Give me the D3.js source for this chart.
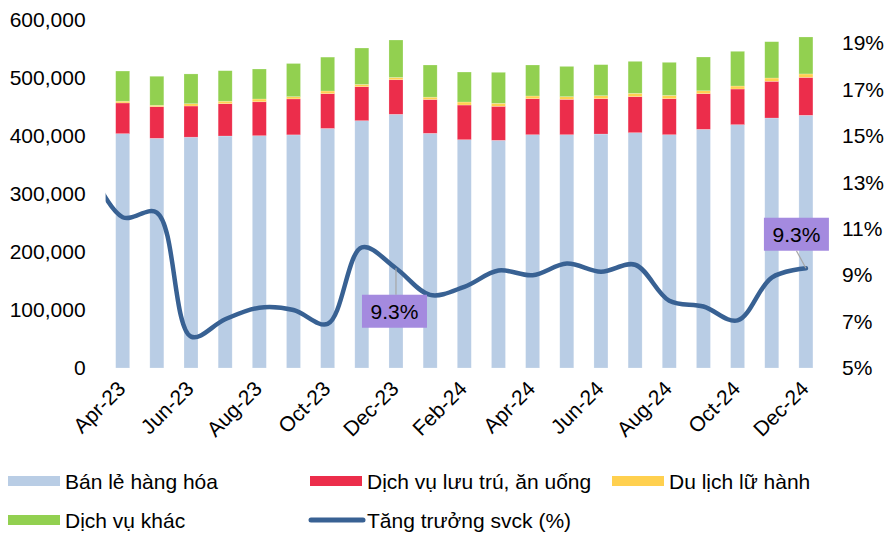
<!DOCTYPE html>
<html>
<head>
<meta charset="utf-8">
<script src="https://cdn.jsdelivr.net/npm/d3@7"></script>
<style>
  body { margin: 0; background: #fff; }
  text { font-family: "Liberation Sans", Arial, sans-serif; fill: #000; }
</style>
</head>
<body>
<div id="chart"></div>
<script>
// months shown on the axis
const months = ['Apr-23', 'May-23', 'Jun-23', 'Jul-23', 'Aug-23', 'Sep-23', 'Oct-23', 'Nov-23', 'Dec-23',
    'Jan-24', 'Feb-24', 'Mar-24', 'Apr-24', 'May-24', 'Jun-24', 'Jul-24', 'Aug-24', 'Sep-24', 'Oct-24', 'Nov-24', 'Dec-24']

// revenue by component
const banLe = [404000, 396000, 398000, 400000, 400500, 402000, 413000, 426400, 437400, 404600, 393600,
    392500, 402200, 402200, 403400, 405700, 402200, 411500, 419500, 431000, 435700]
const luuTru = [53000, 54500, 53700, 55700, 58500, 62000, 60000, 58600, 59600, 58400, 59800,
    58700, 62100, 61000, 60900, 62100, 62100, 61500, 61500, 63300, 65300]
const duLich = [3000, 2500, 4000, 4300, 4800, 3800, 4600, 4000, 4000, 4000, 5200,
    5200, 4700, 4600, 5200, 5800, 5700, 5000, 5200, 5700, 6000]
const khac = [52000, 50000, 51300, 52600, 51700, 57200, 58400, 62700, 64500, 55400, 51700,
    53400, 53400, 52200, 53500, 55100, 57000, 58200, 59800, 62600, 63700]

// yoy growth (%) ; the Mar-23 value only gives the line its entry from the left edge
const growthMar23 = 13.7
const growth = [11.5, 11.7, 6.35, 7.1, 7.6, 7.5, 6.9, 10.2, 9.3, 8.15, 8.5, 9.2, 9.0, 9.5, 9.15, 9.45,
    7.9, 7.65, 7.05, 8.9, 9.3]

const leftTicks = [0, 100000, 200000, 300000, 400000, 500000, 600000]
const rightTicks = [5, 7, 9, 11, 13, 15, 17, 19]
const xTickLabels = ['Apr-23', 'Jun-23', 'Aug-23', 'Oct-23', 'Dec-23', 'Feb-24', 'Apr-24', 'Jun-24', 'Aug-24', 'Oct-24', 'Dec-24']
const labelMonths = ['Dec-23', 'Dec-24']

const seriesKeys = ['banLe', 'luuTru', 'duLich', 'khac']
const seriesNames = ['Bán lẻ hàng hóa', 'Dịch vụ lưu trú, ăn uống', 'Du lịch lữ hành', 'Dịch vụ khác']
const colors = ['#B9CDE5', '#EC2D4B', '#FFD04F', '#92D050']
const lineColor = '#386193'

const W = 885, H = 534
const plotTop = 20, plotBottom = 368, plotLeft = 105.6, plotRight = 823

const rows = months.map((m, i) => ({ month: m, banLe: banLe[i], luuTru: luuTru[i], duLich: duLich[i], khac: khac[i] }))
const stacked = d3.stack().keys(seriesKeys)(rows)

const svg = d3.select('#chart').append('svg')
    .attr('width', W)
    .attr('height', H)

const x = d3.scaleBand().domain(months).range([plotLeft, plotRight]).paddingInner(0.59).paddingOuter(0.295)
const y = d3.scaleLinear().domain([0, 600000]).range([plotBottom, plotTop])
const y2 = d3.scaleLinear().domain([5, 20]).range([plotBottom, plotTop])
const step = x.step()
const cx = i => x(months[0]) + x.bandwidth() / 2 + i * step

// left axis
svg.append('g')
    .attr('transform', `translate(${plotLeft - 20},0)`)
    .call(d3.axisLeft(y).tickValues(leftTicks).tickSize(0).tickPadding(0).tickFormat(d3.format(',')))
    .call(g => g.select('.domain').remove())
    .selectAll('text').style('font-size', '21px')

// right axis
svg.append('g')
    .attr('transform', `translate(${plotRight + 19},0)`)
    .call(d3.axisRight(y2).tickValues(rightTicks).tickSize(0).tickPadding(0).tickFormat(d => d + '%'))
    .call(g => g.select('.domain').remove())
    .selectAll('text').style('font-size', '21px')

// bars
svg.append('g').selectAll('g').data(stacked)
    .enter()
    .append('g')
    .attr('fill', (d, i) => colors[i])
    .selectAll('rect').data(d => d)
    .enter()
    .append('rect')
    .attr('x', d => x(d.data.month))
    .attr('y', d => y(d[1]))
    .attr('width', x.bandwidth())
    .attr('height', d => y(d[0]) - y(d[1]))
    .attr('stroke', '#fff')
    .attr('stroke-opacity', 0.35)
    .attr('stroke-width', 0.6)

// x axis labels
const xAxis = svg.append('g')
    .attr('transform', `translate(0,${plotBottom})`)
    .call(d3.axisBottom(x).tickValues(xTickLabels).tickSize(0).tickPadding(0))
xAxis.select('.domain').remove()
xAxis.selectAll('text')
    .style('font-size', '21px')
    .attr('text-anchor', 'end')
    .attr('dy', 0)
    .attr('transform', 'translate(4,22) rotate(-45)')

// growth line
svg.append('clipPath').attr('id', 'plotClip')
    .append('rect').attr('x', plotLeft).attr('y', 0).attr('width', plotRight - plotLeft + 10).attr('height', H)

const linePts = [{ i: -1, v: growthMar23 }].concat(growth.map((v, i) => ({ i: i, v: v })))
const line = d3.line()
    .x(d => cx(d.i))
    .y(d => y2(d.v))
    .curve(d3.curveCatmullRom.alpha(0.5))

svg.append('path')
    .datum(linePts)
    .attr('clip-path', 'url(#plotClip)')
    .attr('fill', 'none')
    .attr('stroke', lineColor)
    .attr('stroke-width', 4.5)
    .attr('stroke-linecap', 'round')
    .attr('d', line)

// data labels
const labelOffsets = { 'Dec-23': [-1.5, 43], 'Dec-24': [-9.5, -34] }
labelMonths.forEach(m => {
    const i = months.indexOf(m)
    const px = cx(i), py = y2(growth[i])
    const bx = px + labelOffsets[m][0], by = py + labelOffsets[m][1]
    const bw = 65, bh = 33
    const edgeY = labelOffsets[m][1] > 0 ? by - bh / 2 : by + bh / 2
    svg.append('line')
        .attr('x1', px).attr('y1', py)
        .attr('x2', labelOffsets[m][1] > 0 ? px : bx).attr('y2', edgeY)
        .attr('stroke', '#A6A6A6').attr('stroke-width', 1.2)
    svg.append('rect')
        .attr('x', bx - bw / 2).attr('y', by - bh / 2)
        .attr('width', bw).attr('height', bh)
        .attr('fill', '#A48ADF')
    svg.append('text')
        .attr('x', bx).attr('y', by)
        .attr('dy', '0.36em')
        .attr('text-anchor', 'middle')
        .style('font-size', '21px')
        .text(growth[i].toFixed(1) + '%')
})

// legend
const legendItems = seriesNames.map((n, i) => ({ name: n, color: colors[i], type: 'rect' }))
    .concat([{ name: 'Tăng trưởng svck (%)', color: lineColor, type: 'line' }])
const legendPos = [[8, 481], [310, 481], [612, 481], [8, 520], [310, 520]]

const lg = svg.append('g').selectAll('g').data(legendItems)
    .enter()
    .append('g')
    .attr('transform', (d, i) => `translate(${legendPos[i][0]},${legendPos[i][1]})`)

lg.filter(d => d.type === 'rect').append('rect')
    .attr('x', 0).attr('y', -5)
    .attr('width', 52).attr('height', 10)
    .attr('fill', d => d.color)

lg.filter(d => d.type === 'line').append('line')
    .attr('x1', 1).attr('x2', 53).attr('y1', 0).attr('y2', 0)
    .attr('stroke', d => d.color)
    .attr('stroke-width', 5)
    .attr('stroke-linecap', 'round')

lg.append('text')
    .attr('x', 57)
    .attr('y', 0)
    .attr('dy', '0.36em')
    .style('font-size', '21px')
    .text(d => d.name)
</script>
</body>
</html>
